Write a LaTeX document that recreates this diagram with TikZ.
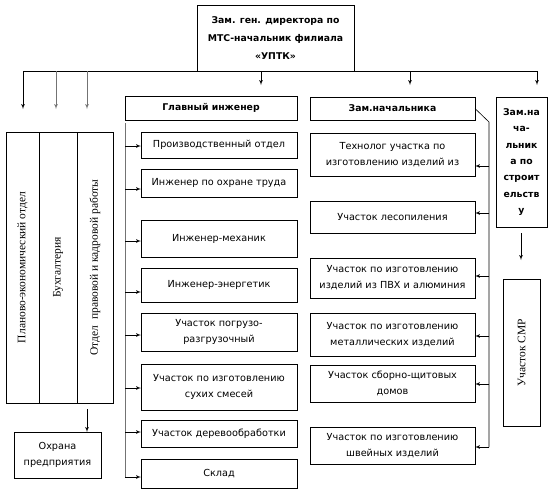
\documentclass[tikz,border=0pt]{standalone}
\usepackage{fontspec}
\usepackage{graphicx}
\setmainfont{DejaVu Sans}
\newfontfamily\serifcyr{Liberation Serif}
\usetikzlibrary{arrows, positioning}

\begin{document}
\begin{tikzpicture}[x=1pt, y=-1pt, node distance=11pt,
    block/.style={rectangle, draw, line width=0.7pt, align=center, inner sep=1pt, outer sep=0pt, font=\fontsize{9.7}{16}\selectfont},
    head/.style={block, font=\fontsize{9.3}{18}\bfseries\selectfont},
    mid/.style={block, minimum width=156pt},
    rgt/.style={block, minimum width=165pt},
    vbox/.style={block, minimum height=271pt, font=\fontsize{11.5}{14}\serifcyr},
    line/.style={draw, -latex', line width=0.7pt},
    gline/.style={line, draw=black!55}]

    \useasboundingbox (0,0) rectangle (550,491);

    % top
    \node [head, minimum width=157pt, minimum height=66pt] (top) at (275.5,38) {Зам. ген. директора по\\МТС-начальник филиала\\«УПТК»};
    \coordinate (busL) at (23,71);
    \coordinate (busR) at (537,71);
    \draw [line width=0.7pt] (busL) -- (busR);
    \foreach \n/\x/\y in {a1/23/109, a4/261/85, a5/410/85, a6/537/85}
      \coordinate (\n) at (\x,\y);
    \foreach \n/\x/\y in {a2/56/109, a3/87/109}
      \coordinate (\n) at (\x,\y);
    \foreach \n in {a1, a4, a5, a6}
      \path [line] (busL -| \n) -- (\n);
    \foreach \n in {a2, a3}
      \path [gline] (busL -| \n) -- (\n);

    % left block
    \node [vbox, minimum width=33pt] (pe) at (22.5,267.5) {\rotatebox{90}{Планово-экономический отдел}};
    \node [vbox, minimum width=38pt, right=0pt of pe] (buh) {\rotatebox{90}{Бухгалтерия}};
    \node [vbox, minimum width=36pt, right=0pt of buh] (okr) {\rotatebox{90}{Отдел\ \ правовой и кадровой работы}};
    \node [block, minimum width=87pt, minimum height=46pt] (ohr) at (57.5,455) {Охрана\\предприятия};
    \coordinate (o1) at (87,409);
    \path [line] (o1) -- (o1 |- ohr.north);

    % chief engineer
    \node [head, minimum width=172pt, minimum height=24pt] (gi) at (211,108) {Главный инженер};
    \node [mid, minimum height=26pt] (m1) at (219,145) {Производственный отдел};
    \node [mid, minimum height=28pt, below=11pt of m1] (m2) {Инженер по охране труда};
    \node [mid, minimum height=37pt, below=23pt of m2] (m3) {Инженер-механик};
    \node [mid, minimum height=34pt, below=11pt of m3] (m4) {Инженер-энергетик};
    \node [mid, minimum height=38pt, below=11pt of m4] (m5) {Участок погрузо-\\разгрузочный};
    \node [mid, minimum height=46pt, below=13pt of m5] (m6) {Участок по изготовлению\\сухих смесей};
    \node [mid, minimum height=27pt, below=10pt of m6] (m7) {Участок деревообработки};
    \node [mid, minimum height=29pt, below=12pt of m7] (m8) {Склад};
    \coordinate (gtop) at (125,123);
    \coordinate (gbot) at (125,477);
    \draw [line width=0.7pt, black!55] (gtop) -- (gbot);
    \foreach \n/\y in {m1/146, m2/189, m3/241, m4/292, m5/335, m6/388, m7/432, m8/477}
      \path [line] (gtop |- 0,\y) -- (\n.west |- 0,\y);

    % deputy
    \node [head, minimum width=165pt, minimum height=23pt] (zn) at (392.5,108.5) {Зам.начальника};
    \node [rgt, minimum height=43pt] (r1) at (392.5,154.5) {Технолог участка по\\изготовлению изделий из};
    \node [rgt, minimum height=32pt, below=25pt of r1] (r2) {Участок лесопиления};
    \node [rgt, minimum height=40pt, below=25pt of r2] (r3) {Участок по изготовлению\\изделий из ПВХ и алюминия};
    \node [rgt, minimum height=43pt, below=15pt of r3] (r4) {Участок по изготовлению\\металлических изделий};
    \node [rgt, minimum height=37pt, below=9pt of r4] (r5) {Участок сборно-щитовых\\домов};
    \node [rgt, minimum height=37pt, below=25pt of r5] (r6) {Участок по изготовлению\\швейных изделий};
    \coordinate (rtop) at (489,122);
    \coordinate (rbot) at (489,447);
    \draw [line width=0.6pt] (zn.east) -- (rtop) -- (rbot);
    \foreach \n/\y in {r1/166, r2/213, r3/276, r4/336, r5/384, r6/447}
      \path [line] (rtop |- 0,\y) -- (\n.east |- 0,\y);

    % construction
    \node [head, minimum width=51pt, minimum height=130pt, font=\fontsize{9.3}{16.3}\bfseries\selectfont] (zs) at (521.5,162) {Зам.на\\ча-\\льник\\а по\\строит\\ельств\\у};
    \node [block, minimum width=37pt, minimum height=147pt, font=\fontsize{11.5}{14}\serifcyr] (smr) at (521.5,352.5) {\rotatebox{90}{Участок СМР}};
    \coordinate (s1) at (521,233);
    \coordinate (s2) at (521,260);
    \path [line] (s1) -- (s2);
\end{tikzpicture}
\end{document}
